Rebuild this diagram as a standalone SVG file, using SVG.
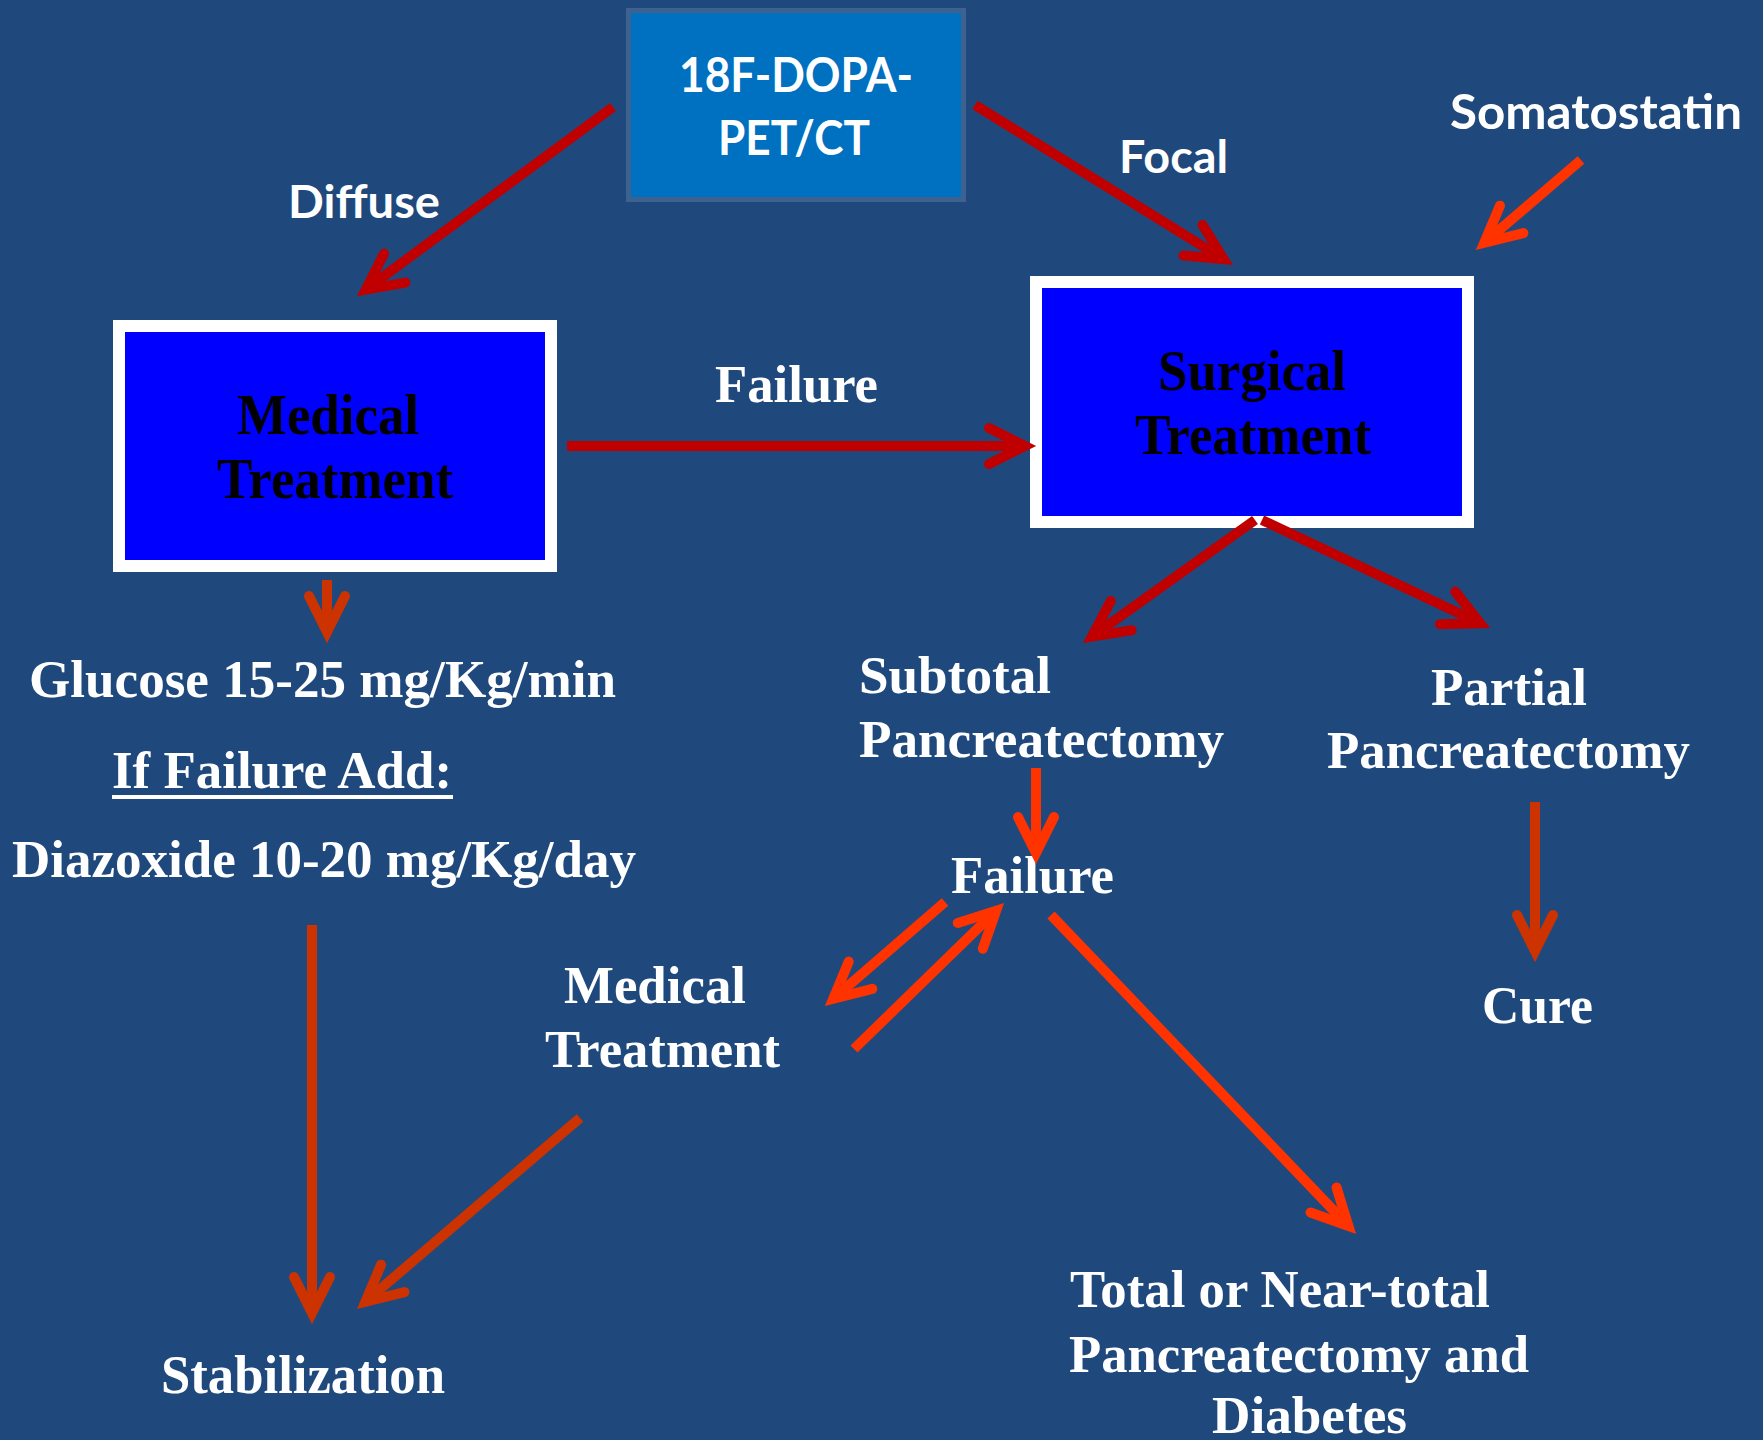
<svg xmlns="http://www.w3.org/2000/svg" width="1763" height="1440" viewBox="0 0 1763 1440">
<style>
.serif{font-family:"Liberation Serif","Times New Roman",serif;font-weight:bold;fill:#fff;}
.sans{font-family:Lato,"Open Sans","Liberation Sans",sans-serif;font-weight:bold;fill:#fff;}
.boxtxt{font-family:"Liberation Serif","Times New Roman",serif;font-weight:bold;fill:#000;font-size:56px;}
.tbox{fill:#0000ff;stroke:#fff;stroke-width:12;}
.c{fill:none;stroke-width:10;stroke-linecap:butt;}
.red{stroke:#c00000;}
.org{stroke:#ff3300;}
.brn{stroke:#cc3300;}
</style>
<defs>
<marker id="aRed" markerUnits="userSpaceOnUse" orient="auto" refX="0" refY="0" markerWidth="80" markerHeight="80" viewBox="-50 -40 80 80" overflow="visible">
<path d="M-36,-18 L0,0 L-36,18" fill="none" stroke="#c00000" stroke-width="10" stroke-linecap="round" stroke-linejoin="miter"/>
</marker>
<marker id="aOrg" markerUnits="userSpaceOnUse" orient="auto" refX="0" refY="0" markerWidth="80" markerHeight="80" viewBox="-50 -40 80 80" overflow="visible">
<path d="M-36,-18 L0,0 L-36,18" fill="none" stroke="#ff3300" stroke-width="10" stroke-linecap="round" stroke-linejoin="miter"/>
</marker>
<marker id="aBrn" markerUnits="userSpaceOnUse" orient="auto" refX="0" refY="0" markerWidth="80" markerHeight="80" viewBox="-50 -40 80 80" overflow="visible">
<path d="M-36,-18 L0,0 L-36,18" fill="none" stroke="#cc3300" stroke-width="10" stroke-linecap="round" stroke-linejoin="miter"/>
</marker>
</defs>
<rect x="0" y="0" width="1763" height="1440" fill="#1f497d"/>

<g id="node-petct">
<rect x="628.5" y="10.5" width="335" height="189" fill="#0070c0" stroke="#3e6290" stroke-width="5"/>
<text class="sans" x="679" y="92" font-size="48" textLength="234" lengthAdjust="spacingAndGlyphs">18F-DOPA-</text>
<text class="sans" x="718" y="155" font-size="48" textLength="152" lengthAdjust="spacingAndGlyphs">PET/CT</text>
</g>

<g id="label-diffuse"><text class="sans" x="288" y="218" font-size="45" textLength="152" lengthAdjust="spacingAndGlyphs">Diffuse</text></g>
<g id="label-focal"><text class="sans" x="1119" y="173" font-size="46" textLength="109" lengthAdjust="spacingAndGlyphs">Focal</text></g>
<g id="node-somatostatin"><text class="sans" x="1450" y="129" font-size="47" textLength="292" lengthAdjust="spacingAndGlyphs">Somatostatin</text></g>

<g id="node-medical">
<rect class="tbox" x="119" y="326" width="432" height="240"/>
<text class="boxtxt" x="237" y="434" textLength="182" lengthAdjust="spacingAndGlyphs">Medical</text>
<text class="boxtxt" x="217" y="498" textLength="236" lengthAdjust="spacingAndGlyphs">Treatment</text>
</g>

<g id="node-surgical">
<rect class="tbox" x="1036" y="282" width="432" height="240"/>
<text class="boxtxt" x="1158" y="390" textLength="188" lengthAdjust="spacingAndGlyphs">Surgical</text>
<text class="boxtxt" x="1135" y="454" textLength="236" lengthAdjust="spacingAndGlyphs">Treatment</text>
</g>

<g id="label-failure-top"><text class="serif" x="715" y="402" font-size="53" textLength="163" lengthAdjust="spacingAndGlyphs">Failure</text></g>

<g id="node-glucose">
<text class="serif" x="29" y="697" font-size="53" textLength="587" lengthAdjust="spacingAndGlyphs">Glucose 15-25 mg/Kg/min</text>
<text class="serif" x="112" y="788" font-size="53" textLength="340" lengthAdjust="spacingAndGlyphs">If Failure Add:</text>
<rect x="112" y="795" width="341" height="4" fill="#fff"/>
<text class="serif" x="12" y="877" font-size="53" textLength="624" lengthAdjust="spacingAndGlyphs">Diazoxide 10-20 mg/Kg/day</text>
</g>

<g id="node-subtotal">
<text class="serif" x="859" y="693" font-size="53" textLength="192" lengthAdjust="spacingAndGlyphs">Subtotal</text>
<text class="serif" x="859" y="757" font-size="53" textLength="365" lengthAdjust="spacingAndGlyphs">Pancreatectomy</text>
</g>

<g id="node-partial">
<text class="serif" x="1431" y="705" font-size="53" textLength="156" lengthAdjust="spacingAndGlyphs">Partial</text>
<text class="serif" x="1327" y="768" font-size="53" textLength="363" lengthAdjust="spacingAndGlyphs">Pancreatectomy</text>
</g>

<g id="node-failure"><text class="serif" x="951" y="893" font-size="53" textLength="163" lengthAdjust="spacingAndGlyphs">Failure</text></g>

<g id="node-medical2">
<text class="serif" x="564" y="1003" font-size="53" textLength="182" lengthAdjust="spacingAndGlyphs">Medical</text>
<text class="serif" x="545" y="1067" font-size="53" textLength="235" lengthAdjust="spacingAndGlyphs">Treatment</text>
</g>

<g id="node-cure"><text class="serif" x="1482" y="1023" font-size="53" textLength="111" lengthAdjust="spacingAndGlyphs">Cure</text></g>

<g id="node-total">
<text class="serif" x="1070" y="1307" font-size="53" textLength="420" lengthAdjust="spacingAndGlyphs">Total or Near-total</text>
<text class="serif" x="1069" y="1372" font-size="53" textLength="460" lengthAdjust="spacingAndGlyphs">Pancreatectomy and</text>
<text class="serif" x="1212" y="1433" font-size="53" textLength="195" lengthAdjust="spacingAndGlyphs">Diabetes</text>
</g>

<g id="node-stabilization"><text class="serif" x="161" y="1393" font-size="55" textLength="284" lengthAdjust="spacingAndGlyphs">Stabilization</text></g>

<g id="connectors">
<line class="c red" x1="613" y1="107" x2="365.8" y2="289.5" marker-end="url(#aRed)"/>
<line class="c red" x1="975" y1="105" x2="1223.6" y2="259.2" marker-end="url(#aRed)"/>
<line class="c red" x1="567" y1="446" x2="1025" y2="446" stroke-width="11" marker-end="url(#aRed)"/>
<line class="c org" x1="1581" y1="160" x2="1484.3" y2="242.8" stroke-width="8" marker-end="url(#aOrg)"/>
<line class="c red" x1="1255" y1="520" x2="1091.9" y2="636.6" marker-end="url(#aRed)"/>
<line class="c red" x1="1262" y1="520" x2="1480.1" y2="623.3" marker-end="url(#aRed)"/>
<line class="c brn" x1="327" y1="580" x2="327" y2="632" marker-end="url(#aBrn)"/>
<line class="c org" x1="1036" y1="768" x2="1036" y2="853" marker-end="url(#aOrg)"/>
<line class="c org" x1="945" y1="902" x2="833.3" y2="998.8" marker-end="url(#aOrg)"/>
<line class="c org" x1="854" y1="1049" x2="996.1" y2="910.7" marker-end="url(#aOrg)"/>
<line class="c org" x1="1051" y1="915" x2="1348.4" y2="1226" marker-end="url(#aOrg)"/>
<line class="c brn" x1="1535" y1="802" x2="1535" y2="951" marker-end="url(#aBrn)"/>
<line class="c brn" x1="312" y1="925" x2="312" y2="1313" marker-end="url(#aBrn)"/>
<line class="c brn" x1="580" y1="1118" x2="365.4" y2="1301.8" marker-end="url(#aBrn)"/>
</g>
</svg>
